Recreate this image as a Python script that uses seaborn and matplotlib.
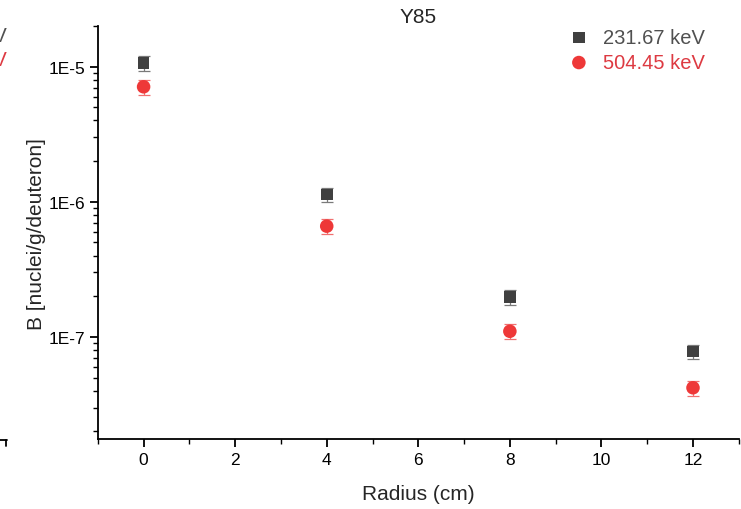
import numpy as np
import pandas as pd
import matplotlib
matplotlib.use("Agg")
import matplotlib.pyplot as plt
import matplotlib.ticker as mticker
from matplotlib.lines import Line2D
import seaborn as sns

radius = [0, 4, 8, 12]
b_231 = [1.06e-5, 1.13e-6, 1.97e-7, 7.8e-8]
err_231 = [0.13e-5, 0.14e-6, 0.26e-7, 0.95e-8]
b_504 = [7.1e-6, 6.6e-7, 1.1e-7, 4.2e-8]
err_504 = [0.9e-6, 0.8e-7, 0.14e-7, 0.52e-8]
series = ["231.67 keV", "504.45 keV"]
colors = ["#404040", "#ee3838"]
text_colors = ["#505050", "#dd3a42"]

df = pd.DataFrame({
    "Radius": radius * 2,
    "B": b_231 + b_504,
    "err": err_231 + err_504,
    "Energy": [series[0]] * 4 + [series[1]] * 4,
})

sns.set_theme(style="ticks")
plt.rcParams["font.family"] = ["Liberation Sans", "DejaVu Sans"]

fig = plt.figure(figsize=(7.41, 5.10), dpi=100)
ax = fig.add_axes([0.132, 0.137, 0.865, 0.810])

ecolors = ["#7a7a7a", "#f07070"]
for s, c, ec in zip(series, colors, ecolors):
    d = df[df["Energy"] == s]
    ax.errorbar(d["Radius"], d["B"], yerr=d["err"], fmt="none", ecolor=ec,
                elinewidth=0.9, capsize=4, capthick=0.9, zorder=2)

for s, c, m, ms in zip(series, colors, ["s", "o"], [70, 95]):
    d = df[df["Energy"] == s]
    sns.scatterplot(x=d["Radius"], y=d["B"], marker=m, color=c, s=ms,
                    edgecolor="none", ax=ax, zorder=3, label=s)

ax.set_yscale("log")
ax.set_ylim(1.75e-8, 2.0e-5)
ax.set_xlim(-1, 13)
ax.xaxis.set_major_locator(mticker.MultipleLocator(2))
ax.xaxis.set_minor_locator(mticker.MultipleLocator(1))
ax.yaxis.set_major_locator(mticker.FixedLocator([1e-7, 1e-6, 1e-5]))
ax.yaxis.set_major_formatter(mticker.FuncFormatter(lambda v, p: "1E%d" % round(np.log10(v))))
ax.yaxis.set_minor_locator(mticker.LogLocator(base=10, subs=np.arange(2, 10)))
ax.yaxis.set_minor_formatter(mticker.NullFormatter())

for sp in ["top", "right"]:
    ax.spines[sp].set_visible(False)
for sp in ["left", "bottom"]:
    ax.spines[sp].set_linewidth(1.3)
    ax.spines[sp].set_color("black")
ax.tick_params(which="major", direction="out", length=6, width=1.3, labelsize=12.5, colors="black")
ax.tick_params(which="minor", direction="out", length=3.5, width=1.0, colors="black")
ax.tick_params(axis="y", pad=3)

ax.set_xlabel("Radius (cm)", fontsize=15, labelpad=12)
ax.set_ylabel("B [nuclei/g/deuteron]", fontsize=15, labelpad=2)
ax.set_title("Y85", fontsize=15, pad=3)

leg = ax.legend(loc="upper right", bbox_to_anchor=(0.966, 1.025), frameon=False,
                fontsize=14.5, handletextpad=0.6, labelspacing=0.3, borderaxespad=0.2,
                handlelength=1.2)
for t, tc in zip(leg.get_texts(), text_colors):
    t.set_color(tc)

# remnants of the neighbouring panel at the left edge
fig.text(7 / 741, 1 - 37 / 510, "keV", fontsize=14.5, color=text_colors[0], va="center", ha="right")
fig.text(7 / 741, 1 - 61 / 510, "keV", fontsize=14.5, color=text_colors[1], va="center", ha="right")
fig.add_artist(Line2D([0, 7 / 741], [1 - 441 / 510, 1 - 441 / 510], color="black", lw=1.3))
fig.add_artist(Line2D([6 / 741, 6 / 741], [1 - 441 / 510, 1 - 447 / 510], color="black", lw=1.3))

fig.savefig("out.png", dpi=100)
